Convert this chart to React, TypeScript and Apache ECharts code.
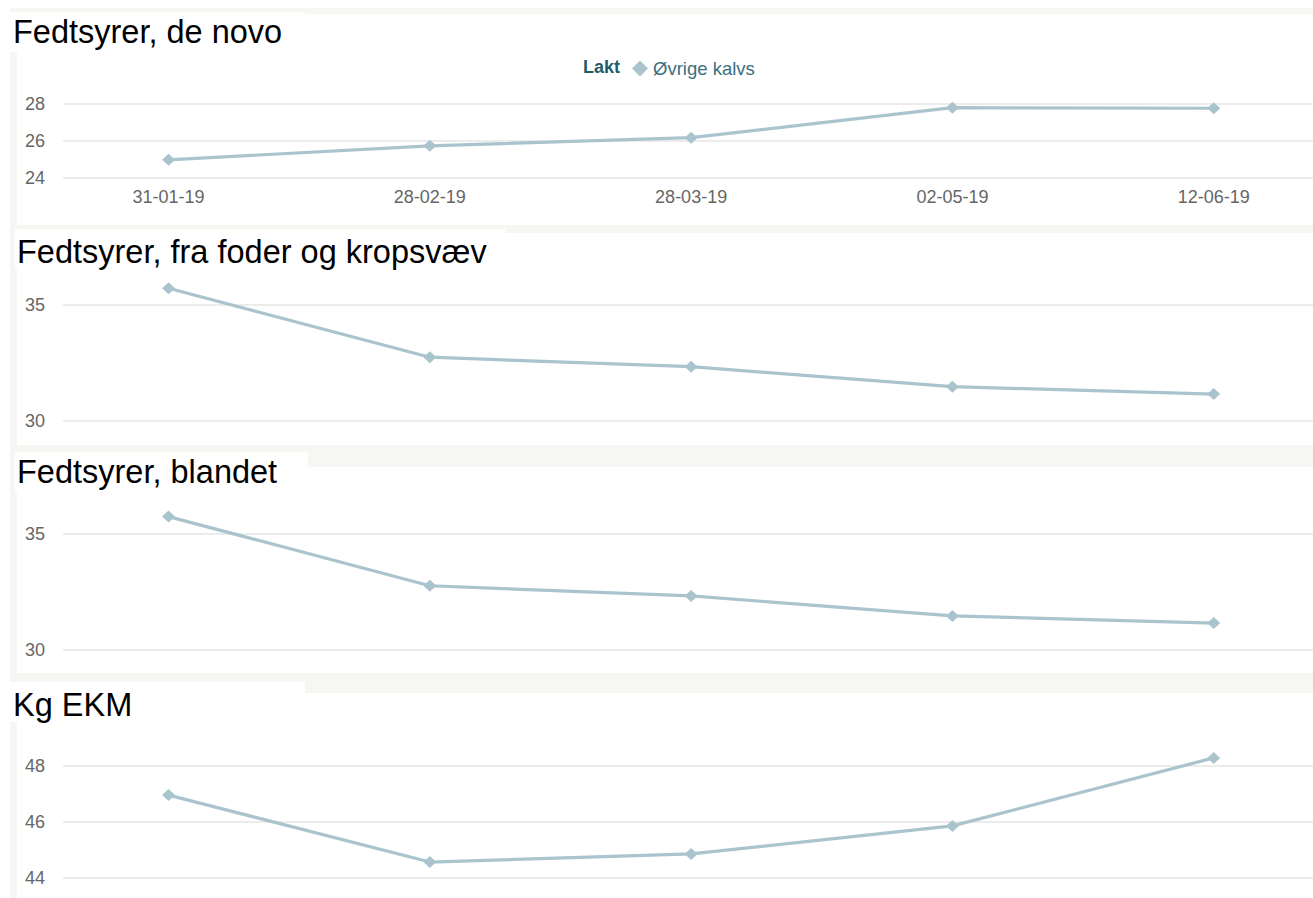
import React, { useEffect, useRef } from "react";
import * as echarts from "echarts";

// Sample dates shared by all four panels
const dates = ["31-01-19", "28-02-19", "28-03-19", "02-05-19", "12-06-19"];

// Series values, one array per panel
const deNovo = [24.98, 25.74, 26.18, 27.8, 27.77];
const fraFoderOgKropsvaev = [35.72, 32.75, 32.34, 31.48, 31.16];
const blandet = [35.75, 32.77, 32.33, 31.47, 31.16];
const kgEkm = [46.96, 44.57, 44.86, 45.86, 48.29];

// Panel titles and y-axis ranges
const titles = [
  "Fedtsyrer, de novo",
  "Fedtsyrer, fra foder og kropsvæv",
  "Fedtsyrer, blandet",
  "Kg EKM",
];
const yRanges = [
  { min: 24, max: 28, interval: 2 },
  { min: 30, max: 35, interval: 5 },
  { min: 30, max: 35, interval: 5 },
  { min: 44, max: 48, interval: 2 },
];

const seriesName = "Øvrige kalvs";
const legendTitle = "Lakt";

const FONT = "'Liberation Sans', Arial, Helvetica, sans-serif";
const LINE_COLOR = "#aac4cd";
const FRAME = "#f6f6f2";
const LABEL_COLOR = "#666666";

// Plot-area geometry (pixels) for each panel
const grids = [
  { top: 104, height: 74 },
  { top: 305, height: 116 },
  { top: 534, height: 116 },
  { top: 766, height: 112 },
];
const GRID_LEFT = 63;
const X_MIN = -0.404;
const X_MAX = 4.38;

// White chart areas inside the beige frame
const panels = [
  { y: 14, h: 211 },
  { y: 233, h: 212 },
  { y: 467, h: 206 },
  { y: 693, h: 205 },
];
// White boxes behind the panel titles
const titleBoxes = [
  { x: 10, y: 12, w: 295, h: 40, ty: 32, tx: 13 },
  { x: 15, y: 229, w: 490, h: 40, ty: 252, tx: 17 },
  { x: 15, y: 452, w: 293, h: 40, ty: 472, tx: 17 },
  { x: 10, y: 682, w: 295, h: 40, ty: 705, tx: 13 },
];

const allSeries = [deNovo, fraFoderOgKropsvaev, blandet, kgEkm];

export default function App() {
  const ref = useRef<HTMLDivElement | null>(null);

  useEffect(() => {
    if (!ref.current) return;
    const chart = echarts.init(ref.current, undefined, { renderer: "svg" });

    const graphic: any[] = [
      {
        type: "rect",
        z: -20,
        shape: { x: 10, y: 8, width: 1310, height: 890 },
        style: { fill: FRAME },
        silent: true,
      },
    ];
    panels.forEach((p) => {
      graphic.push({
        type: "rect",
        z: -10,
        shape: { x: 17, y: p.y, width: 1310, height: p.h },
        style: { fill: "#ffffff" },
        silent: true,
      });
    });
    titleBoxes.forEach((b, i) => {
      graphic.push({
        type: "rect",
        z: 5,
        shape: { x: b.x, y: b.y, width: b.w, height: b.h },
        style: { fill: "#ffffff" },
        silent: true,
      });
      graphic.push({
        type: "text",
        z: 6,
        x: b.tx,
        y: b.ty,
        style: {
          text: titles[i],
          fill: "#000000",
          font: `32.5px ${FONT}`,
          verticalAlign: "middle",
          align: "left",
        },
        silent: true,
      });
    });
    graphic.push({
      type: "text",
      z: 6,
      x: 583,
      y: 67,
      style: {
        text: legendTitle,
        fill: "#1e5b6b",
        font: `bold 18px ${FONT}`,
        verticalAlign: "middle",
        align: "left",
      },
      silent: true,
    });

    const option: any = {
      animation: false,
      backgroundColor: "#ffffff",
      graphic,
      legend: {
        data: [{ name: seriesName, icon: "diamond" }],
        left: 632,
        top: 59,
        padding: 0,
        itemWidth: 16,
        itemHeight: 16,
        itemGap: 5,
        textStyle: { color: "#3b7080", fontSize: 18.5, fontFamily: FONT },
        selectedMode: false,
      },
      grid: grids.map((g) => ({
        left: GRID_LEFT,
        right: 0,
        top: g.top,
        height: g.height,
        containLabel: false,
      })),
      xAxis: grids.map((_, i) => ({
        type: "value",
        gridIndex: i,
        min: X_MIN,
        max: X_MAX,
        axisLine: { show: false },
        axisTick: { show: false },
        splitLine: { show: false },
        axisLabel: {
          show: i === 0,
          customValues: [0, 1, 2, 3, 4],
          formatter: (v: number) => dates[Math.round(v)] ?? "",
          color: LABEL_COLOR,
          fontSize: 18,
          fontFamily: FONT,
          margin: 10,
        },
      })),
      yAxis: yRanges.map((r, i) => ({
        type: "value",
        gridIndex: i,
        min: r.min,
        max: r.max,
        interval: r.interval,
        axisLine: { show: false },
        axisTick: { show: false },
        axisLabel: {
          color: LABEL_COLOR,
          fontSize: 18,
          fontFamily: FONT,
          margin: 18,
        },
        splitLine: { lineStyle: { color: "#e6e6e6", width: 1.5 } },
      })),
      series: allSeries.map((vals, i) => ({
        name: seriesName,
        type: "line",
        xAxisIndex: i,
        yAxisIndex: i,
        clip: false,
        data: vals.map((v, j) => [j, v]),
        symbol: "diamond",
        symbolSize: [13, 12],
        lineStyle: { color: LINE_COLOR, width: 3.2 },
        itemStyle: { color: LINE_COLOR },
        emphasis: { disabled: true },
      })),
    };

    chart.setOption(option);
    return () => chart.dispose();
  }, []);

  return (
    <div
      ref={ref}
      style={{ position: "absolute", left: 0, top: 0, width: 1313, height: 898 }}
    />
  );
}
